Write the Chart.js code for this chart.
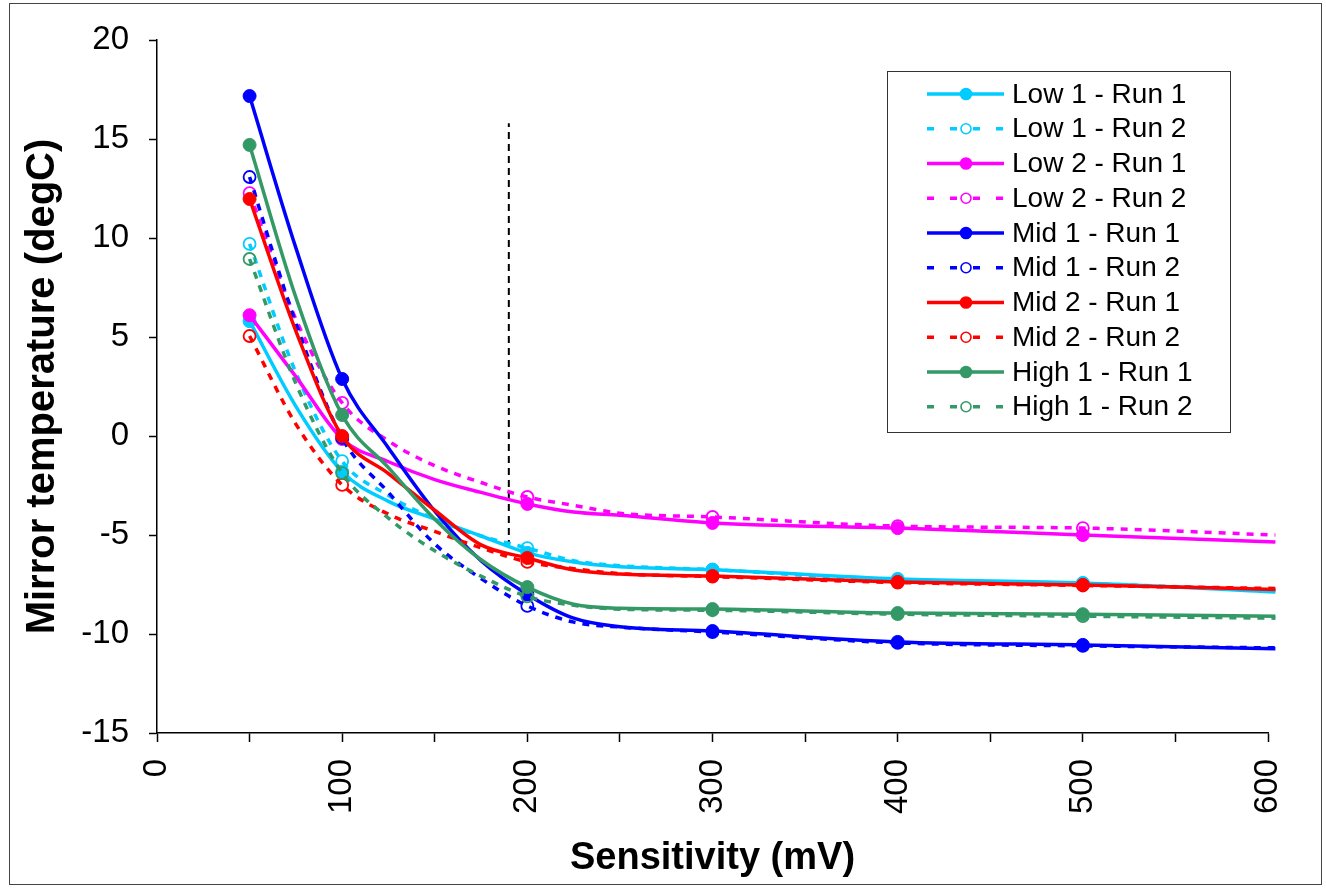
<!DOCTYPE html>
<html>
<head>
<meta charset="utf-8">
<script src="https://cdn.jsdelivr.net/npm/chart.js@4.4.1/dist/chart.umd.min.js"></script>
<style>
    html, body { margin: 0; padding: 0; background: #fff; }
    #wrap { position: relative; width: 1326px; height: 888px; }
</style>
</head>
<body>
<div id="wrap"><canvas id="chart" width="1326" height="888"></canvas></div>
<script>
// --- Data ---
const sensitivity = [50, 75, 100, 125, 150, 175, 200, 225, 250, 300, 400, 500, 604];
const markerAt = [50, 100, 200, 300, 400, 500];
const xTickLabels = [0, 100, 200, 300, 400, 500, 600];

const low1Run1 = [5.8, 1.5, -1.8, -3.3, -4.2, -5.05, -5.9, -6.36, -6.6, -6.75, -7.22, -7.42, -7.88];
const low1Run2 = [9.7, 3.2, -1.27, -3.0, -4.2, -5.05, -5.66, -6.3, -6.55, -6.75, -7.3, -7.45, -7.8];
const low2Run1 = [6.1, 3.0, -0.15, -1.3, -2.2, -2.85, -3.43, -3.84, -4.0, -4.39, -4.65, -5.0, -5.35];
const low2Run2 = [12.27, 5.9, 1.67, -0.25, -1.5, -2.35, -3.08, -3.5, -3.9, -4.09, -4.55, -4.65, -5.0];
const mid1Run1 = [17.17, 9.5, 2.88, -0.6, -3.8, -6.3, -8.0, -9.2, -9.63, -9.85, -10.4, -10.55, -10.75];
const mid1Run2 = [13.08, 5.7, -0.1, -2.85, -5.45, -7.2, -8.58, -9.4, -9.65, -9.9, -10.45, -10.6, -10.7];
const mid2Run1 = [11.97, 5.3, 0.0, -1.9, -3.75, -5.5, -6.16, -6.77, -6.97, -7.07, -7.37, -7.52, -7.75];
const mid2Run2 = [5.05, 0.6, -2.47, -3.95, -4.82, -5.65, -6.36, -6.7, -6.95, -7.1, -7.4, -7.55, -7.7];
const high1Run1 = [14.7, 7.0, 1.06, -1.6, -4.2, -6.25, -7.63, -8.5, -8.7, -8.74, -8.94, -9.0, -9.1];
const high1Run2 = [8.94, 2.65, -1.87, -4.15, -5.8, -7.08, -8.1, -8.55, -8.75, -8.8, -9.0, -9.1, -9.2];

const seriesNames = ['Low 1 - Run 1', 'Low 1 - Run 2', 'Low 2 - Run 1', 'Low 2 - Run 2',
    'Mid 1 - Run 1', 'Mid 1 - Run 2', 'Mid 2 - Run 1', 'Mid 2 - Run 2', 'High 1 - Run 1', 'High 1 - Run 2'];
const seriesValues = [low1Run1, low1Run2, low2Run1, low2Run2, mid1Run1, mid1Run2, mid2Run1, mid2Run2, high1Run1, high1Run2];
const seriesColors = ['#00CCFF', '#00CCFF', '#FF00FF', '#FF00FF', '#0000FF', '#0000FF', '#FF0000', '#FF0000', '#339966', '#339966'];

// vertical dashed reference line
const refLineX = [190, 190];
const refLineY = [-5.6, 15.8];

const FONT = '"Liberation Sans", Arial, sans-serif';

function buildDatasets() {
    const sets = seriesNames.map((name, i) => {
        const open = i % 2 === 1;
        return {
            label: name,
            data: sensitivity.map((x, j) => ({ x: x, y: seriesValues[i][j] })),
            showLine: true,
            borderColor: seriesColors[i],
            borderWidth: 3.5,
            borderDash: open ? [7, 7] : [],
            cubicInterpolationMode: 'monotone',
            pointStyle: 'circle',
            pointRadius: ctx => (ctx.raw && markerAt.includes(ctx.raw.x)) ? (open ? 6 : 6.5) : 0,
            pointHoverRadius: 0,
            pointBackgroundColor: open ? 'rgba(0,0,0,0)' : seriesColors[i],
            pointBorderColor: seriesColors[i],
            pointBorderWidth: open ? 1.8 : 1,
            clip: false,
            order: 20 - i,
            isOpen: open
        };
    });
    sets.push({
        label: 'ref',
        data: refLineX.map((x, j) => ({ x: x, y: refLineY[j] })),
        showLine: true,
        borderColor: '#000',
        borderWidth: 2,
        borderDash: [7, 5],
        pointRadius: 0,
        order: 100
    });
    return sets;
}

// Legend drawn inside the plot like the original
const legendBox = {
    id: 'legendBox',
    afterDatasetsDraw(chart) {
        const ctx = chart.ctx;
        ctx.save();
        ctx.fillStyle = '#fff';
        ctx.fillRect(887, 71, 343, 361);
        ctx.strokeStyle = '#333';
        ctx.lineWidth = 1;
        ctx.strokeRect(887.5, 71.5, 343, 361);
        seriesNames.forEach((name, i) => {
            const ds = chart.data.datasets[i];
            const y = 94 + i * 34.75;
            ctx.beginPath();
            ctx.setLineDash(ds.isOpen ? [7, 16] : []);
            ctx.strokeStyle = ds.borderColor;
            ctx.lineWidth = 3.5;
            ctx.moveTo(927, y);
            ctx.lineTo(1004, y);
            ctx.stroke();
            ctx.setLineDash([]);
            ctx.beginPath();
            ctx.arc(966, y, ds.isOpen ? 5 : 5.5, 0, Math.PI * 2);
            ctx.fillStyle = ds.isOpen ? '#fff' : ds.borderColor;
            ctx.fill();
            ctx.lineWidth = 1.6;
            ctx.strokeStyle = ds.borderColor;
            ctx.stroke();
            ctx.fillStyle = '#000';
            ctx.font = '28px ' + FONT;
            ctx.textBaseline = 'middle';
            ctx.textAlign = 'left';
            ctx.fillText(name, 1012, y + 1);
        });
        ctx.restore();
    }
};

// Thin frame round the whole picture
const frame = {
    id: 'frame',
    afterDraw(chart) {
        const ctx = chart.ctx;
        ctx.save();
        ctx.strokeStyle = '#444';
        ctx.lineWidth = 1;
        ctx.strokeRect(9.5, 3.5, 1312, 881);
        ctx.restore();
    }
};

new Chart(document.getElementById('chart'), {
    type: 'scatter',
    data: { datasets: buildDatasets() },
    plugins: [legendBox, frame],
    options: {
        responsive: false,
        animation: false,
        devicePixelRatio: 1,
        layout: { padding: { top: 40, right: 58, left: 0, bottom: 0 } },
        plugins: {
            legend: { display: false },
            tooltip: { enabled: false }
        },
        scales: {
            x: {
                type: 'linear',
                min: 0,
                max: 600,
                afterFit: s => { s.height = 155; },
                ticks: {
                    stepSize: 50,
                    autoSkip: false,
                    minRotation: 90,
                    maxRotation: 90,
                    padding: 17,
                    color: '#000',
                    font: { family: FONT, size: 33 },
                    callback: v => xTickLabels.includes(v) ? String(v) : ''
                },
                grid: {
                    drawOnChartArea: false,
                    drawTicks: true,
                    tickLength: 9,
                    tickWidth: 1.5,
                    tickColor: '#000'
                },
                border: { display: true, color: '#000', width: 1.5 },
                title: {
                    display: true,
                    text: 'Sensitivity (mV)',
                    color: '#000',
                    font: { family: FONT, size: 38, weight: 'bold', lineHeight: 1.2 },
                    padding: { top: 0, bottom: 7 }
                }
            },
            y: {
                type: 'linear',
                min: -15,
                max: 20,
                afterFit: s => { s.width = 157; },
                ticks: {
                    stepSize: 5,
                    padding: 20,
                    color: '#000',
                    font: { family: FONT, size: 33 }
                },
                grid: {
                    drawOnChartArea: false,
                    drawTicks: true,
                    tickLength: 8,
                    tickWidth: 1.5,
                    tickColor: '#000'
                },
                border: { display: true, color: '#000', width: 1.5 },
                title: {
                    display: true,
                    text: 'Mirror temperature (degC)',
                    color: '#000',
                    font: { family: FONT, size: 40, weight: 'bold', lineHeight: 1.2 },
                    padding: { top: 19, bottom: 0 }
                }
            }
        }
    }
});
</script>
</body>
</html>
